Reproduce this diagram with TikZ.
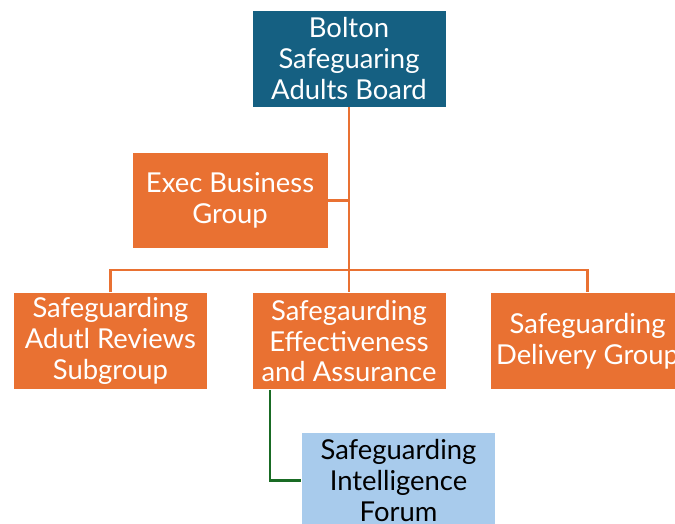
\documentclass[tikz,border=0pt]{standalone}
\usepackage{fontspec}
\setmainfont{Lato}
\usetikzlibrary{positioning, calc}
\definecolor{boardblue}{RGB}{21, 96, 130}
\definecolor{grouporange}{RGB}{233, 113, 50}
\definecolor{forumblue}{RGB}{168, 203, 236}
\definecolor{linegreen}{RGB}{25, 107, 36}

\begin{document}
\begin{tikzpicture}[
    node distance=1.1cm,
    unit/.style={rectangle, draw=white, line width=0.4pt, fill=grouporange,
                 minimum width=4.85cm, minimum height=2.425cm, inner sep=0pt,
                 align=center, text=white, font=\fontsize{19.5}{22}\selectfont},
    board/.style={unit, fill=boardblue},
    forum/.style={unit, fill=forumblue, text=black},
    link/.style={grouporange, line width=1.7pt},
    sublink/.style={linegreen, line width=1.7pt}
]
    \path[use as bounding box] (0,0) rectangle (16.875,-13.1);

    \node[board] (bolton) at (8.725,-1.4625) {Bolton\\Safeguaring\\Adults Board};
    \node[unit, below=1.125cm of bolton, xshift=-2.975cm, minimum width=4.9cm, minimum height=2.4cm] (exec) {Exec Business\\Group};
    \node[unit, below=4.625cm of bolton] (sea) {Safegaurding\\Effectiveness\\and Assurance};
    \node[unit, left=of sea] (sar) {Safeguarding\\Adutl Reviews\\Subgroup};
    \node[unit, right=of sea] (delivery) {Safeguarding\\Delivery Group};
    \node[forum, below=of sea, xshift=1.2375cm, yshift=0.05cm] (intel) {Safeguarding\\Intelligence\\Forum};

    \draw[link] (bolton) -- (sea);
    \draw[link] (exec.east) -- (exec.east -| bolton.south);
    \draw[link] (sar.north) -- ++(0,0.55) -| (delivery.north);
    \draw[sublink] ($(sea.south west)+(0.45,0)$) |- (intel.west);
\end{tikzpicture}
\end{document}
